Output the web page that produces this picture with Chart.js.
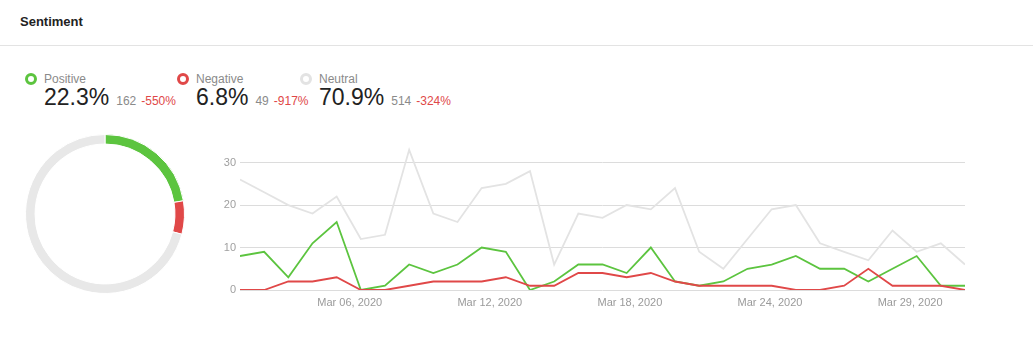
<!DOCTYPE html>
<html>
<head>
<meta charset="utf-8">
<script src="https://cdn.jsdelivr.net/npm/chart.js@4/dist/chart.umd.min.js"></script>
<style>
  html, body { margin: 0; padding: 0; background: #fff; }
  body { width: 1033px; height: 364px; position: relative; overflow: hidden; font-family: "Liberation Sans", Arial, sans-serif; }
  .title { position: absolute; left: 20px; top: 14px; font-size: 13px; font-weight: bold; color: #222; }
  .divider { position: absolute; left: 0; top: 45px; width: 1033px; height: 1px; background: #e3e3e3; }
  .item { position: absolute; top: 72px; white-space: nowrap; }
  .marker { position: absolute; left: -19px; top: 1px; width: 6px; height: 6px; border-radius: 50%; border: 3px solid; }
  .name { font-size: 12px; color: #8a8a8a; line-height: 14px; }
  .big { font-size: 23px; color: #222; line-height: 23px; }
  .count { font-size: 12px; color: #8a8a8a; margin-left: 7px; }
  .change { font-size: 12px; color: #e04848; margin-left: 5px; }
  #donutBox { position: absolute; left: 25px; top: 134px; width: 160px; height: 160px; }
  #lineBox { position: absolute; left: 200px; top: 135px; width: 780px; height: 181px; }
</style>
</head>
<body>
<div class="title">Sentiment</div>
<div class="divider"></div>
<div id="legend"></div>
<div id="donutBox"><canvas id="donut"></canvas></div>
<div id="lineBox"><canvas id="line"></canvas></div>
<script>
// ---- data ----
const seriesNames = ["Positive", "Negative", "Neutral"];
const seriesColors = ["#5cc43f", "#e04848", "#e3e3e3"];
const sharePct = ["22.3%", "6.8%", "70.9%"];
const totals = [162, 49, 514];
const changes = ["-550%", "-917%", "-324%"];

const dates = [
  "Mar 01, 2020","Mar 02, 2020","Mar 03, 2020","Mar 04, 2020","Mar 05, 2020","Mar 06, 2020",
  "Mar 07, 2020","Mar 08, 2020","Mar 09, 2020","Mar 10, 2020","Mar 11, 2020","Mar 12, 2020",
  "Mar 13, 2020","Mar 14, 2020","Mar 15, 2020","Mar 16, 2020","Mar 17, 2020","Mar 18, 2020",
  "Mar 19, 2020","Mar 20, 2020","Mar 21, 2020","Mar 22, 2020","Mar 23, 2020","Mar 24, 2020",
  "Mar 25, 2020","Mar 26, 2020","Mar 27, 2020","Mar 28, 2020","Mar 29, 2020","Mar 30, 2020","Mar 31, 2020"
];
const positive = [8,9,3,11,16,0,1,6,4,6,10,9,0,2,6,6,4,10,2,1,2,5,6,8,5,5,2,5,8,1,1];
const negative = [0,0,2,2,3,0,0,1,2,2,2,3,1,1,4,4,3,4,2,1,1,1,1,0,0,1,5,1,1,1,0];
const neutral  = [26,23,20,18,22,12,13,33,18,16,24,25,28,6,18,17,20,19,24,9,5,12,19,20,11,9,7,14,9,11,6];

const xTickLabels = ["Mar 06, 2020", "Mar 12, 2020", "Mar 18, 2020", "Mar 24, 2020", "Mar 29, 2020"];
const yTicks = [0, 10, 20, 30];

// ---- legend (HTML) ----
const legendLefts = [44, 196, 319];
const legend = document.getElementById("legend");
seriesNames.forEach((n, i) => {
  const d = document.createElement("div");
  d.className = "item";
  d.style.left = legendLefts[i] + "px";
  d.innerHTML = '<div class="marker" style="border-color:' + seriesColors[i] + '"></div>' +
    '<div class="name">' + n + '</div>' +
    '<div><span class="big">' + sharePct[i] + '</span><span class="count">' + totals[i] +
    '</span><span class="change">' + changes[i] + '</span></div>';
  legend.appendChild(d);
});

// ---- donut ----
new Chart(document.getElementById("donut"), {
  type: "doughnut",
  data: {
    labels: seriesNames,
    datasets: [{
      data: totals,
      backgroundColor: seriesColors.map((c, i) => i === 2 ? "#e8e8e8" : c),
      borderColor: "#fff",
      borderWidth: 1
    }]
  },
  options: {
    responsive: true, maintainAspectRatio: false, animation: false,
    cutout: "88%",
    plugins: { legend: { display: false }, tooltip: { enabled: false } }
  }
});

// ---- line chart ----
const toXY = arr => arr.map((v, i) => ({ x: i, y: v }));
const tickStart = 4.54, tickStep = 5.797;
new Chart(document.getElementById("line"), {
  type: "line",
  data: {
    datasets: [
      { label: "Neutral", data: toXY(neutral), borderColor: "#e3e3e3", borderWidth: 1.8, pointRadius: 0, tension: 0 },
      { label: "Negative", data: toXY(negative), borderColor: "#e04848", borderWidth: 1.8, pointRadius: 0, tension: 0 },
      { label: "Positive", data: toXY(positive), borderColor: "#5cc43f", borderWidth: 1.8, pointRadius: 0, tension: 0 }
    ]
  },
  options: {
    responsive: true, maintainAspectRatio: false, animation: false,
    layout: { padding: { top: 0, right: 15, bottom: 0, left: 0 } },
    plugins: { legend: { display: false }, tooltip: { enabled: false } },
    scales: {
      x: {
        type: "linear", min: 0, max: dates.length - 1,
        afterBuildTicks: s => { s.ticks = xTickLabels.map((l, k) => ({ value: tickStart + k * tickStep })); },
        afterFit: s => { s.height = 26; },
        ticks: {
          autoSkip: false, maxRotation: 0, padding: 6,
          color: "#9a9a9a", font: { family: "Liberation Sans", size: 11 },
          callback: (v, k) => xTickLabels[k]
        },
        grid: { display: false, drawTicks: false },
        border: { display: false }
      },
      y: {
        min: 0, max: 34,
        afterBuildTicks: s => { s.ticks = yTicks.map(v => ({ value: v })); },
        afterFit: s => { s.width = 40; },
        ticks: { color: "#a0a0a0", font: { family: "Liberation Sans", size: 11 }, padding: 4 },
        grid: { color: "#dcdcdc", drawTicks: false, lineWidth: 1 },
        border: { display: false }
      }
    }
  }
});
</script>
</body>
</html>
